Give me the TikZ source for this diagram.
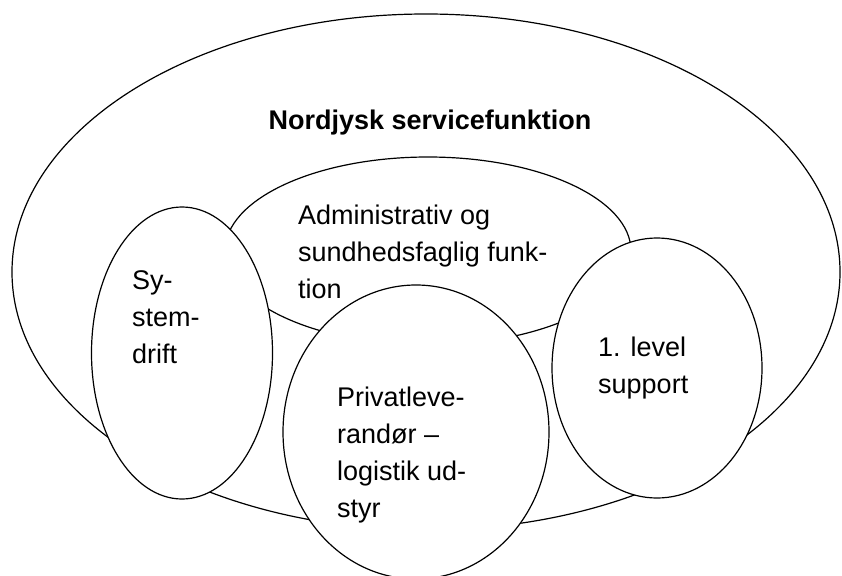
\documentclass[tikz,border=0pt]{standalone}
\usepackage{fontspec}
\setmainfont{Liberation Sans}
\usetikzlibrary{shapes.geometric}

\begin{document}
\begin{tikzpicture}[x=1pt,y=-1pt,
 blob/.style={draw,ellipse,fill=white,line width=1.2pt,inner sep=0pt},
 lbl/.style={font=\fontsize{27}{37}\selectfont,align=left,anchor=north west,inner sep=0pt}]
\useasboundingbox (0,0) rectangle (842,575);
\node[blob,minimum width=828pt,minimum height=516pt] (nord) at (426,272) {};
\node[lbl,font=\fontsize{27}{37}\selectfont\bfseries,anchor=north] (nordtxt) at (430,110) {Nordjysk servicefunktion};
\node[blob,minimum width=406pt,minimum height=188pt] (admin) at (428,251) {};
\node[lbl] (admintxt) at (298,205) {Administrativ og\\sundhedsfaglig funk-\\tion};
\node[blob,minimum width=181pt,minimum height=292pt] (sys) at (182,353) {};
\node[lbl] (systxt) at (132,270) {Sy-\\stem-\\drift};
\node[blob,minimum width=266pt,minimum height=294pt] (privat) at (416,432) {};
\node[lbl] (privattxt) at (337,387) {Privatleve-\\randør –\\logistik ud-\\styr};
\node[blob,minimum width=210pt,minimum height=260pt] (level) at (657,368) {};
\node[lbl] (leveltxt) at (598,337) {1. level\\support};
\end{tikzpicture}
\end{document}
